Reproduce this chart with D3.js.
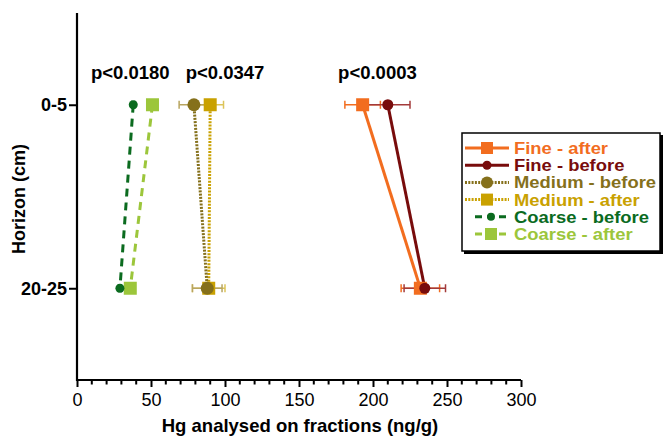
<!DOCTYPE html>
<html>
<head>
<meta charset="utf-8">
<script src="https://cdn.jsdelivr.net/npm/d3@7"></script>
<style>
  html, body { margin: 0; padding: 0; background: #fff; }
  svg { display: block; font-family: "Liberation Sans", Arial, Helvetica, sans-serif; }
</style>
</head>
<body>
<svg id="chart" width="665" height="436"></svg>
<script>
// Soil horizons (y categories)
const horizons = ["0-5", "20-25"];

// Hg concentration per horizon (ng/g), mean and error half-width
const fineAfter      = [193, 232];
const fineAfterErr   = [12, 13];
const fineBefore     = [210, 235];
const fineBeforeErr  = [15, 14];
const mediumBefore   = [79, 88];
const mediumBeforeErr= [10, 10];
const mediumAfter    = [90, 89];
const mediumAfterErr = [9, 11];
const coarseBefore   = [38, 29];
const coarseBeforeErr= [1, 1];
const coarseAfter    = [51, 36];
const coarseAfterErr = [1, 1];

// Significance labels and the x value they are centred on
const pLabels = ["p<0.0180", "p<0.0347", "p<0.0003"];
const pLabelX = [36, 100, 203];

const xTicks = [0, 50, 100, 150, 200, 250, 300];

const FONT = "'Liberation Sans', Arial, Helvetica, sans-serif";

const series = [
  { name: "Fine - after",    values: fineAfter,    err: fineAfterErr,    color: "#f26d1f", errColor: "#f26d1f", shape: "square", dash: null,  r: 6.5, legendR: 6 },
  { name: "Fine - before",   values: fineBefore,   err: fineBeforeErr,   color: "#780c0c", errColor: "#a33a3a", shape: "circle", dash: null,  r: 5.5, legendR: 4.5 },
  { name: "Medium - before", values: mediumBefore, err: mediumBeforeErr, color: "#85701b", errColor: "#b8a560", shape: "circle", dash: "2,1.3", r: 6.5, legendR: 6 },
  { name: "Medium - after",  values: mediumAfter,  err: mediumAfterErr,  color: "#c9a100", errColor: "#dcc45a", shape: "square", dash: "2,1.3", r: 6.5, legendR: 6 },
  { name: "Coarse - before", values: coarseBefore, err: coarseBeforeErr, color: "#0b6b1f", errColor: "#0b6b1f", shape: "circle", dash: "8,6", r: 4.5, legendR: 4 },
  { name: "Coarse - after",  values: coarseAfter,  err: coarseAfterErr,  color: "#9cc63b", errColor: "#9cc63b", shape: "square", dash: "8,6", r: 6.5, legendR: 6 }
];

const svg = d3.select("#chart");

const x = d3.scaleLinear().domain([0, 300]).range([77, 521]);
const y = d3.scaleLinear().domain([-0.5, 1.5]).range([13, 380]);

// Axes
const xAxis = d3.axisBottom(x).tickValues(xTicks).tickSize(7).tickPadding(6);
const gx = svg.append("g").attr("transform", "translate(0,380)").call(xAxis);
gx.attr("font-family", FONT);
gx.select(".domain").attr("stroke", "#000").attr("stroke-width", 2.2).attr("d", `M${x(0)},0H${x(300)}`);
gx.selectAll(".tick line").attr("stroke", "#000").attr("stroke-width", 2);
gx.selectAll(".tick text").attr("font-size", 18).attr("fill", "#000").attr("dy", "0.71em").attr("y", 13);

// minor ticks every 10
const minor = d3.range(10, 300, 10).filter(v => v % 50 !== 0);
gx.selectAll(".minor").data(minor).join("line")
  .attr("x1", d => x(d)).attr("x2", d => x(d))
  .attr("y1", 0).attr("y2", 4.5)
  .attr("stroke", "#000").attr("stroke-width", 2);

const yAxis = d3.axisLeft(y).tickValues([0, 1]).tickFormat(i => horizons[i]).tickSize(8).tickPadding(2);
const gy = svg.append("g").attr("transform", "translate(77,0)").call(yAxis);
gy.attr("font-family", FONT);
gy.select(".domain").attr("stroke", "#000").attr("stroke-width", 2.2).attr("d", `M0,${y(-0.5)}V${y(1.5) + 1}`);
gy.selectAll(".tick line").attr("stroke", "#000").attr("stroke-width", 2);
gy.selectAll(".tick text").attr("font-size", 18).attr("font-weight", "bold").attr("fill", "#000");

// Axis titles
svg.append("text")
  .attr("x", 300).attr("y", 432)
  .attr("text-anchor", "middle")
  .attr("font-size", 18.5).attr("font-weight", "bold")
  .text("Hg analysed on fractions (ng/g)");

svg.append("text")
  .attr("transform", "translate(25,199) rotate(-90)")
  .attr("text-anchor", "middle")
  .attr("font-size", 18).attr("font-weight", "bold")
  .text("Horizon (cm)");

// p-values
svg.selectAll(".pval").data(pLabels).join("text")
  .attr("class", "pval")
  .attr("x", (d, i) => x(pLabelX[i]))
  .attr("y", 79)
  .attr("text-anchor", "middle")
  .attr("font-size", 18.5).attr("font-weight", "bold")
  .text(d => d);

// Draw order: back to front
const drawOrder = [3, 2, 5, 4, 0, 1];

const line = d3.line().x(d => x(d.v)).y(d => y(d.i));

function marker(g, s, cx, cy, r) {
  if (s.shape === "square") {
    g.append("rect").attr("x", cx - r).attr("y", cy - r)
      .attr("width", 2 * r).attr("height", 2 * r).attr("fill", s.color);
  } else {
    g.append("circle").attr("cx", cx).attr("cy", cy).attr("r", r).attr("fill", s.color);
  }
}

// error bars first
drawOrder.forEach(k => {
  const s = series[k];
  const g = svg.append("g");
  s.values.forEach((v, i) => {
    const x0 = x(v - s.err[i]), x1 = x(v + s.err[i]), yy = y(i);
    g.append("line").attr("x1", x0).attr("x2", x1).attr("y1", yy).attr("y2", yy)
      .attr("stroke", s.errColor).attr("stroke-width", 1.5);
    [x0, x1].forEach(xx => g.append("line").attr("x1", xx).attr("x2", xx)
      .attr("y1", yy - 4).attr("y2", yy + 4)
      .attr("stroke", s.errColor).attr("stroke-width", 1.5));
  });
});

// connecting lines
drawOrder.forEach(k => {
  const s = series[k];
  const pts = s.values.map((v, i) => ({ v, i }));
  svg.append("path").attr("d", line(pts))
    .attr("fill", "none").attr("stroke", s.color)
    .attr("stroke-width", 3)
    .attr("stroke-dasharray", s.dash);
});

// markers
drawOrder.forEach(k => {
  const s = series[k];
  const g = svg.append("g");
  s.values.forEach((v, i) => marker(g, s, x(v), y(i), s.r));
});

// Legend
const lg = svg.append("g");
lg.append("rect").attr("x", 464).attr("y", 135).attr("width", 199).attr("height", 119).attr("fill", "#000");
lg.append("rect").attr("x", 462).attr("y", 133).attr("width", 198).attr("height", 118)
  .attr("fill", "#fff").attr("stroke", "#000").attr("stroke-width", 1.5);

const rowY = d3.scaleLinear().domain([0, 5]).range([148, 234]);
series.forEach((s, k) => {
  const yy = rowY(k);
  const isCoarse = k >= 4;
  const lx0 = isCoarse ? 475 : 465, lx1 = isCoarse ? 507 : 509;
  const mid = isCoarse ? 491 : 487;
  lg.append("line").attr("x1", lx0).attr("x2", lx1).attr("y1", yy).attr("y2", yy)
    .attr("stroke", s.color).attr("stroke-width", 3)
    .attr("stroke-dasharray", isCoarse ? "7,5" : s.dash);
  marker(lg, s, mid, yy, s.legendR);
  // compact rows: slightly condensed height, full width
  lg.append("text")
    .attr("transform", `translate(514,${yy + 6}) scale(1.15,1)`)
    .attr("font-size", 16).attr("font-weight", "bold").attr("fill", s.color)
    .text(s.name);
});
</script>
</body>
</html>
